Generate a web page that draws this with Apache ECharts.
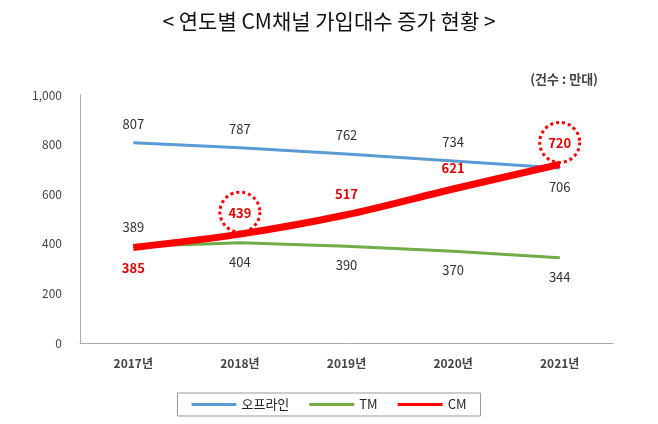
<!DOCTYPE html>
<html>
<head>
<meta charset="utf-8">
<script src="https://cdn.jsdelivr.net/npm/echarts@6/dist/echarts.min.js"></script>
<style>html,body{margin:0;padding:0;background:#fff}#chart{width:658px;height:424px}</style>
</head>
<body>
<div id="chart"></div>
<script>
var years = ['2017년', '2018년', '2019년', '2020년', '2021년'];
var offline = [807, 787, 762, 734, 706];
var tm = [389, 404, 390, 370, 344];
var cm = [385, 439, 517, 621, 720];
var circled = [1, 4];

var font = '"Noto Sans CJK KR", sans-serif';
var chart = echarts.init(document.getElementById('chart'));

function labelPos(list, fn) {
    return list.map(function (v, i) {
        return { value: v, label: { position: fn(i) } };
    });
}

chart.setOption({
    animation: false,
    textStyle: { fontFamily: font },
    title: [{
        text: '< 연도별 CM채널 가입대수 증가 현황 >',
        left: 'center', top: 6,
        textStyle: { fontSize: 21, fontWeight: 'normal', color: '#111', fontFamily: font }
    }, {
        text: '(건수 : 만대)',
        right: 55, top: 68,
        textStyle: { fontSize: 13, fontWeight: 'bold', color: '#444', fontFamily: font }
    }],
    legend: {
        bottom: 8, left: 'center', icon: 'rect',
        itemWidth: 45, itemHeight: 3, itemGap: 20,
        borderColor: '#999', borderWidth: 1, padding: [5, 14],
        textStyle: { fontSize: 13, color: '#222' },
        data: ['오프라인', 'TM', { name: 'CM', itemStyle: { color: '#ff0000' } }]
    },
    grid: { left: 80, right: 45, top: 95, bottom: 81 },
    xAxis: {
        type: 'category', data: years,
        axisLine: { lineStyle: { color: '#aaa' } },
        axisTick: { show: false },
        axisLabel: { color: '#444', fontSize: 12, fontWeight: 'bold', margin: 14 }
    },
    yAxis: {
        type: 'value', min: 0, max: 1000, interval: 200,
        axisLine: { show: true, lineStyle: { color: '#aaa' } },
        splitLine: { show: false },
        axisLabel: {
            color: '#444', fontSize: 12, margin: 18,
            formatter: function (v) { return v === 1000 ? '1,000' : v; }
        }
    },
    series: [{
        name: '오프라인', type: 'line', symbol: 'circle', symbolSize: 1,
        lineStyle: { width: 3, color: '#5b9bd5' }, itemStyle: { color: '#5b9bd5' },
        label: { show: true, color: '#333', fontSize: 13, distance: 12 },
        data: labelPos(offline, function (i) { return i === 4 ? 'bottom' : 'top'; })
    }, {
        name: 'TM', type: 'line', symbol: 'circle', symbolSize: 1,
        lineStyle: { width: 3, color: '#70ad47' }, itemStyle: { color: '#70ad47' },
        label: { show: true, color: '#333', fontSize: 13, distance: 12 },
        data: labelPos(tm, function (i) { return i === 0 ? 'top' : 'bottom'; })
    }, {
        name: 'CM', type: 'line', symbol: 'circle', symbolSize: 1, smooth: 0.3,
        lineStyle: { width: 7, color: '#ff0000' }, itemStyle: { color: '#ff0000' },
        label: { show: true, color: '#e00000', fontSize: 13, fontWeight: 'bold', distance: 14 },
        data: labelPos(cm, function (i) { return i === 0 ? 'bottom' : 'top'; }),
        markPoint: {
            symbol: 'circle', symbolSize: 40, symbolOffset: [0, -22],
            label: { show: false },
            itemStyle: { color: 'transparent', borderColor: '#ff0000', borderWidth: 3, borderType: 'dotted' },
            data: circled.map(function (i) { return { coord: [i, cm[i]] }; })
        }
    }]
});
</script>
</body>
</html>
